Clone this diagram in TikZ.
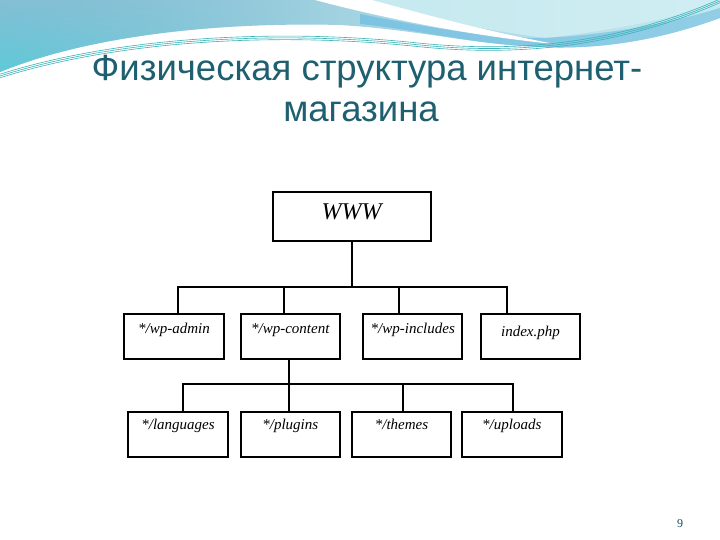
\documentclass[tikz,border=0pt]{standalone}
\usepackage{fontspec}
\setmainfont{Liberation Serif}
\newfontfamily\titlefont{Liberation Sans}
\usetikzlibrary{fadings}
\definecolor{titlecol}{HTML}{1E5F70}
\definecolor{waveA}{HTML}{84BFD5}
\definecolor{waveB}{HTML}{5FCAD8}
\definecolor{waveC}{HTML}{C4E9EF}
\definecolor{waveD}{HTML}{7CC3E2}
\definecolor{thinline}{HTML}{3BB3B9}
\tikzset{
  dirbox/.style={draw=black, line width=2.1pt, rectangle, inner xsep=2pt, inner ysep=2pt,
    text height=17pt, text depth=24pt, font=\fontsize{15}{17}\selectfont\itshape},
  rootbox/.style={draw=black, line width=2.1pt, rectangle, inner xsep=2pt, inner ysep=2pt,
    text height=25.3pt, text depth=19.7pt, font=\fontsize{24}{28}\selectfont\itshape},
  link/.style={draw=black, line width=2.1pt},
  titletext/.style={font=\titlefont\fontsize{36.5}{41}\selectfont, text=titlecol, anchor=base, inner sep=0pt},
}
\begin{document}
\begin{tikzpicture}[x=1pt,y=-1pt]
\useasboundingbox (0,0) rectangle (720,540);
\fill[white] (0,0) rectangle (720,540);
% top wave decoration
\shade[left color=waveA, right color=waveC]
  (0,0) -- (720,0) -- (720,18) .. controls (660,40) and (600,50) .. (540,47)
  .. controls (470,44) and (420,30) .. (340,25)
  .. controls (220,22) and (90,35) .. (0,72) -- cycle;
\shade[top color=waveA, bottom color=waveB, path fading=east]
  (0,0) -- (0,72) .. controls (90,35) and (220,22) .. (340,25) -- (340,0) -- cycle;
\shade[left color=waveC, right color=waveC!80!white]
  (335,0) .. controls (400,12) and (470,28) .. (545,38)
  .. controls (620,30) and (680,15) .. (720,5) -- (720,0) -- cycle;
\shade[left color=waveD, right color=waveD!70!waveC]
  (360,14) .. controls (430,28) and (490,38) .. (545,38)
  .. controls (620,34) and (680,20) .. (720,8) -- (720,18)
  .. controls (660,40) and (600,50) .. (540,47)
  .. controls (470,44) and (420,30) .. (360,24) -- cycle;
% white swoosh
\fill[white] (315,0) -- (372,0) .. controls (430,16) and (490,32) .. (555,44)
  .. controls (480,37) and (390,20) .. (315,0) -- cycle;
\foreach \d in {-1.8,0,1.8}{
  \draw[thinline, line width=0.6pt]
    (0,76+\d) .. controls (120,38+\d) and (280,30+\d) .. (420,45+\d)
    .. controls (520,55+\d) and (620,45+\d) .. (722,0+\d);
}
% title
\node[titletext] (title1) at (367,81) {Физическая структура интернет-};
\node[titletext] (title2) at (361,122) {магазина};
% page number
\node[font=\fontsize{12}{14}\selectfont, text=titlecol!80!black] (pnum) at (680,524) {9};
% boxes
\node[rootbox, minimum width=158pt, minimum height=49pt] (www) at (351.7,216.2) {WWW};
\node[dirbox, minimum width=100pt] (admin) at (174,336.8) {*/wp-admin};
\node[dirbox, minimum width=99.3pt] (content) at (290.3,336.8) {*/wp-content};
\node[dirbox, minimum width=99pt] (includes) at (412.8,336.8) {*/wp-includes};
\node[dirbox, minimum width=99.6pt, text height=20pt, text depth=21pt] (index) at (530.5,336.8) {index.php};
\tikzset{dirbox/.append style={text height=16pt, text depth=24.7pt}}
\node[dirbox, minimum width=99.4pt] (lang) at (178,434.3) {*/languages};
\node[dirbox, minimum width=99.3pt] (plugins) at (290.3,434.3) {*/plugins};
\node[dirbox, minimum width=99.6pt] (themes) at (401.5,434.3) {*/themes};
\node[dirbox, minimum width=99.7pt] (uploads) at (511.8,434.3) {*/uploads};
% bus coordinates
\coordinate (b1) at (178.3,286.7);
\coordinate (b2) at (284.3,286.7);
\coordinate (b3) at (399,286.7);
\coordinate (b4) at (507.3,286.7);
\coordinate (c1) at (183,384);
\coordinate (c2) at (289,384);
\coordinate (c3) at (403.3,384);
\coordinate (c4) at (512.7,384);
% connectors
\draw[link] (www.south) -- (www.south |- b1);
\draw[link, line cap=rect] (b1) -- (b4);
\draw[link] (b1) -- (b1 |- admin.north);
\draw[link] (b2) -- (b2 |- content.north);
\draw[link] (b3) -- (b3 |- includes.north);
\draw[link] (b4) -- (b4 |- index.north);
\draw[link] (c2 |- content.south) -- (c2);
\draw[link, line cap=rect] (c1) -- (c4);
\draw[link] (c1) -- (c1 |- lang.north);
\draw[link] (c2) -- (c2 |- plugins.north);
\draw[link] (c3) -- (c3 |- themes.north);
\draw[link] (c4) -- (c4 |- uploads.north);
\end{tikzpicture}
\end{document}
